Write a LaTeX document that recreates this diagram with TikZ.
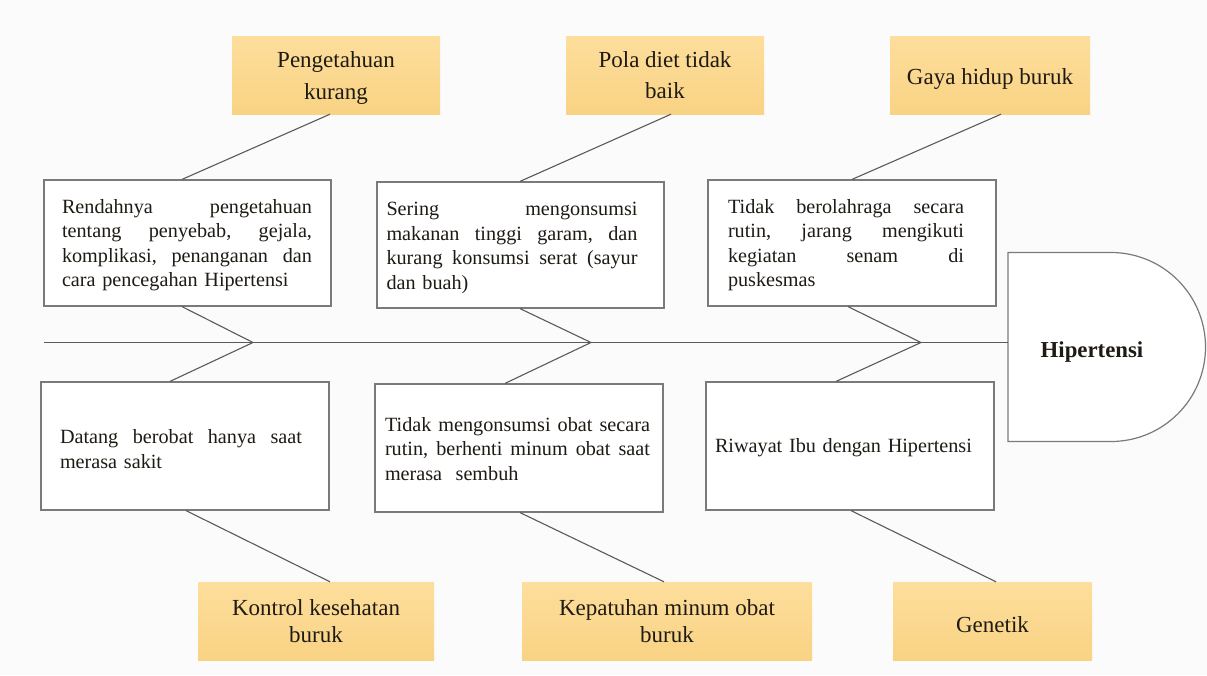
\documentclass[tikz,border=0pt]{standalone}
\usepackage{fontspec}
\setmainfont{Liberation Serif}
\definecolor{bgc}{HTML}{FBFBFB}
\definecolor{ortop}{HTML}{FDDE9C}
\definecolor{orbot}{HTML}{F9D384}
\definecolor{linec}{HTML}{5A5A5A}
\definecolor{boxc}{HTML}{7A7A7A}
\definecolor{txtc}{HTML}{1E1A14}
\newcommand{\jl}[2]{\makebox[#1pt][s]{\frenchspacing\spaceskip=0.25em plus 1fil\relax #2}}
\begin{document}
\begin{tikzpicture}[x=1pt,y=-1pt,
  obox/.style={top color=ortop, bottom color=orbot, draw=none, inner sep=0pt,
    text=txtc, align=center, font=\fontsize{23}{#1}\selectfont},
  wbox/.style={draw=boxc, line width=1.2pt, fill=white, inner sep=0pt},
  btext/.style={text=txtc, align=left, inner sep=0pt, font=\fontsize{20.2}{24.5}\selectfont},
  rib/.style={draw=linec, line width=1.1pt},
]
\useasboundingbox[fill=bgc] (0,0) rectangle (1207,675);

% cause boxes (orange)
\node[obox=31.6, minimum width=208pt, minimum height=78pt] (o1) at (336,75) {\rule{0pt}{22pt}Pengetahuan\\kurang};
\node[obox=31.6, minimum width=198pt, minimum height=78pt] (o2) at (665,75) {Pola diet tidak\\baik};
\node[obox=31.6, minimum width=200pt, minimum height=78pt] (o3) at (990,75) {\rule{0pt}{24pt}Gaya hidup buruk};
\node[obox=26.7, minimum width=236pt, minimum height=78pt] (o4) at (316,621) {Kontrol kesehatan\\buruk};
\node[obox=26.7, minimum width=290pt, minimum height=78pt] (o5) at (667,621) {Kepatuhan minum obat\\buruk};
\node[obox=26.7, minimum width=199pt, minimum height=78pt] (o6) at (992.5,621) {\rule{0pt}{24pt}Genetik};

% detail boxes (white)
\node[wbox, minimum width=287pt, minimum height=126pt] (b1) at (187.5,243) {};
\node[wbox, minimum width=287pt, minimum height=126pt] (b2) at (520.5,245) {};
\node[wbox, minimum width=288pt, minimum height=126pt] (b3) at (852,243) {};
\node[wbox, minimum width=288pt, minimum height=128pt] (b4) at (185,446) {};
\node[wbox, minimum width=288pt, minimum height=128pt] (b5) at (519,448) {};
\node[wbox, minimum width=288pt, minimum height=128pt] (b6) at (850,446) {};

\node[btext, text width=250pt] (t1) at (187,245) {\jl{250}{Rendahnya pengetahuan}\\\jl{250}{tentang penyebab, gejala,}\\\jl{250}{komplikasi, penanganan dan}\\cara pencegahan Hipertensi};
\node[btext, text width=251pt] (t2) at (512,248) {\jl{251}{Sering mengonsumsi}\\\jl{251}{makanan tinggi garam, dan}\\\jl{251}{kurang konsumsi serat (sayur}\\dan buah)};
\node[btext, text width=236pt] (t3) at (846,245) {\jl{236}{Tidak berolahraga secara}\\\jl{236}{rutin, jarang mengikuti}\\\jl{236}{kegiatan senam di}\\puskesmas};
\node[btext, text width=242pt] (t4) at (181,449) {\jl{242}{Datang berobat hanya saat}\\merasa sakit};
\node[btext, text width=265pt] (t5) at (517.5,449) {\jl{265}{Tidak mengonsumsi obat secara}\\\jl{265}{rutin, berhenti minum obat saat}\\merasa\ \ sembuh};
\node[btext, text width=270pt] (t6) at (850,448) {Riwayat Ibu dengan Hipertensi};

% head
\draw[draw=boxc, line width=1.2pt, fill=white] (1008,252.5) -- (1111,252.5)
  arc[start angle=-90, end angle=90, radius=94.5] -- (1008,441.5) -- cycle;
\node[text=txtc, font=\fontsize{22.8}{26}\selectfont\bfseries, inner sep=0pt] (head) at (1092,352) {Hipertensi};
\coordinate (hl) at (1008,342.5);
\coordinate (tail) at (44,342.5);

% spine
\draw[rib] (tail) -- (hl);

% apex points on spine
\coordinate (a1) at (253,342.5);
\coordinate (a2) at (591,342.5);
\coordinate (a3) at (921,342.5);

% top connectors
\draw[rib] ([xshift=-6pt]o1.south) -- ([xshift=-5.5pt]b1.north);
\draw[rib] ([xshift=6pt]o2.south) -- ([xshift=-0.5pt]b2.north);
\draw[rib] ([xshift=11pt]o3.south) -- (b3.north);
% herringbone
\draw[rib] ([xshift=-5.5pt]b1.south) -- (a1) -- ([xshift=-15pt]b4.north);
\draw[rib] ([xshift=-0.5pt]b2.south) -- (a2) -- ([xshift=-14pt]b5.north);
\draw[rib] ([xshift=-4pt]b3.south) -- (a3) -- ([xshift=-14pt]b6.north);
% bottom connectors
\draw[rib] ([xshift=1pt]b4.south) -- ([xshift=14pt]o4.north);
\draw[rib] ([xshift=1pt]b5.south) -- ([xshift=-3pt]o5.north);
\draw[rib] ([xshift=1pt]b6.south) -- ([xshift=3.5pt]o6.north);
\end{tikzpicture}
\end{document}
